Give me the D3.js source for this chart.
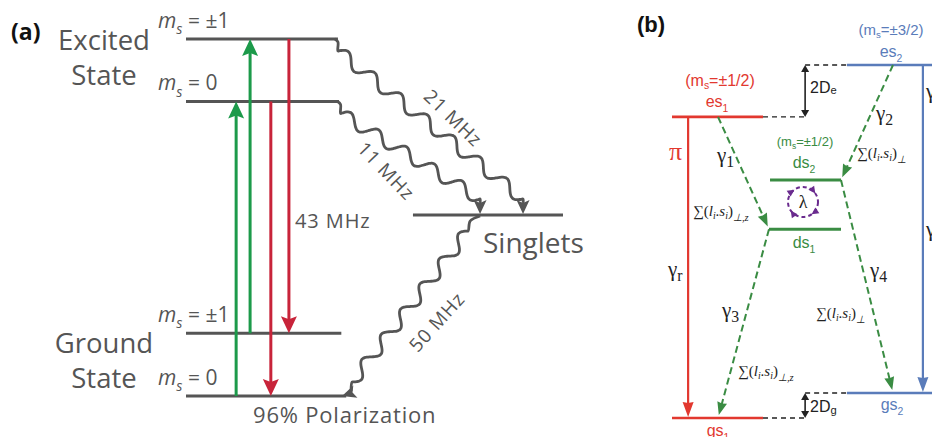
<!DOCTYPE html>
<html><head><meta charset="utf-8">
<script src="https://cdn.jsdelivr.net/npm/d3@7"></script>
<style>body{margin:0;background:#fff}svg{display:block}</style>
</head><body>
<svg id="c" width="932" height="437"></svg>
<script>
// ---------------- DATA ----------------
// Panel (a): NV-centre levels, energy in relative units (ground ms=0 -> 0, excited ms=±1 -> 100)
const levelIdsA    = ["g0", "g1", "e0", "e1", "S"];
const levelEnergyA = [0, 17.6, 82.5, 100, 50.7];
const levelMsA     = ["0", "±1", "0", "±1", null];
const stateNamesA  = [["Excited", "State"], ["Ground", "State"]];
// optical transitions
const opticalFromA = ["g0", "g1", "e0", "e1"];
const opticalToA   = ["e0", "e1", "g0", "g1"];
const opticalKindA = ["absorb", "absorb", "emit", "emit"];
// non-radiative (intersystem crossing) rates, MHz
const iscFromA  = ["e1", "e0", "S"];
const iscToA    = ["S", "S", "g0"];
const iscRateA  = [21, 11, 50];
const radRateA  = 43;
const polarization = 96; // %

// Panel (b): levels (relative energy, gs1 -> 0, es2 -> 100)
const levelIdsB    = ["es1", "es2", "ds2", "ds1", "gs1", "gs2"];
const levelEnergyB = [85.3, 100, 67.4, 53.5, 0, 7.1];
const levelFamB    = ["red", "blue", "green", "green", "red", "blue"];
const transFromB   = ["es1", "es2", "ds1", "ds2"];
const transToB     = ["ds1", "ds2", "gs1", "gs2"];
const transRateB   = ["1", "2", "3", "4"];

// ---------------- LAYOUT ----------------
const svg = d3.select("#c");
const xA = d3.scaleLinear([0, 100], [186, 563]);
const yA = d3.scaleLinear([0, 100], [396, 39]);
const xB = d3.scaleLinear([0, 100], [672, 932]);
const yB = d3.scaleLinear([0, 100], [418, 65]);

const spanA = {g0: [0, 42.5], g1: [0, 41.2], e0: [0, 40.6], e1: [0, 40.3], S: [60.2, 100]};
const opticalX = [13.3, 17.0, 22.5, 27.3];
const iscX = [[40.3, 89.4], [41.0, 78.0], [77.5, 41.4]];
const waveN = [7, 5, 6];
const spanB = {es1: [0, 35], gs1: [0, 35], es2: [67.3, 102], gs2: [67.3, 102], ds2: [37.7, 65], ds1: [37.3, 65]};
const colB = {red: "#e2382f", blue: "#5a7cba", green: "#3a8c43"};
const GRAY = "#555", GREEN = "#1c9a4a", RED = "#c8243a";

function head(tip, ang, len, hw, notch) {
  const c = Math.cos(ang), s = Math.sin(ang);
  const bx = tip[0] - c * len, by = tip[1] - s * len;
  const nx = tip[0] - c * (len - notch), ny = tip[1] - s * (len - notch);
  return `M${tip[0]},${tip[1]}L${bx - s * hw},${by + c * hw}L${nx},${ny}L${bx + s * hw},${by - c * hw}Z`;
}

function rich(g, x, y, parts, opt) {
  const t = g.append("text").attr("x", x).attr("y", y)
    .attr("font-family", opt.font).attr("font-size", opt.size).attr("fill", opt.fill)
    .attr("text-anchor", opt.anchor || "start");
  if (opt.spacing) t.attr("letter-spacing", opt.spacing);
  let shift = 0;
  parts.forEach(p => {
    const sp = t.append("tspan").text(p.t);
    const target = p.sub ? opt.size * (p.subShift || 0.32) : 0;
    if (target !== shift) { sp.attr("dy", target - shift); shift = target; }
    if (p.sub) sp.attr("font-size", opt.size * (p.subSize || 0.65));
    if (p.it) sp.attr("font-style", "italic");
  });
  return t;
}

// ---------------- PANEL (a) ----------------
const gA = svg.append("g");
const EA = Object.fromEntries(levelIdsA.map((d, i) => [d, levelEnergyA[i]]));
const OPEN = "'Open Sans', sans-serif";

gA.append("text").attr("x", 11).attr("y", 40).attr("font-family", OPEN)
  .attr("font-weight", 700).attr("font-size", 23).attr("fill", "#111").text("(a)");

levelIdsA.forEach((id, i) => {
  gA.append("line").attr("x1", xA(spanA[id][0])).attr("x2", xA(spanA[id][1]))
    .attr("y1", yA(levelEnergyA[i])).attr("y2", yA(levelEnergyA[i]))
    .attr("stroke", GRAY).attr("stroke-width", 3);
  if (levelMsA[i] !== null) {
    rich(gA, 158, yA(levelEnergyA[i]) - 11, [
      {t: "m", it: true}, {t: "s", sub: true, it: true, subShift: 0.3, subSize: 0.68}, {t: " = " + levelMsA[i]}
    ], {font: OPEN, size: 21, fill: GRAY});
  }
});

[[50, 85], [353, 388]].forEach((ys, k) => {
  gA.append("text").attr("x", 104).attr("y", ys[0]).attr("text-anchor", "middle")
    .attr("font-family", OPEN).attr("font-size", 27.5).attr("fill", GRAY).text(stateNamesA[k][0]);
  gA.append("text").attr("x", 104).attr("y", ys[1]).attr("text-anchor", "middle")
    .attr("font-family", OPEN).attr("font-size", 27.5).attr("fill", GRAY).text(stateNamesA[k][1]);
});

opticalFromA.forEach((f, i) => {
  const x = xA(opticalX[i]);
  const y0 = yA(EA[f]), y1 = yA(EA[opticalToA[i]]);
  const col = opticalKindA[i] === "absorb" ? GREEN : RED;
  const dir = y1 < y0 ? -1 : 1;
  gA.append("line").attr("x1", x).attr("x2", x).attr("y1", y0).attr("y2", y1 - dir * 12)
    .attr("stroke", col).attr("stroke-width", 3);
  gA.append("path").attr("d", head([x, y1], dir * Math.PI / 2, 17, 8, 3)).attr("fill", col);
});

gA.append("text").attr("x", 295).attr("y", 228).attr("font-family", OPEN)
  .attr("font-size", 20).attr("letter-spacing", 0.9).attr("fill", GRAY).text(radRateA + " MHz");

function wave(p0, p1, n, A) {
  const dx = p1[0] - p0[0], dy = p1[1] - p0[1], L = Math.hypot(dx, dy);
  const px = -dy / L, py = dx / L, N = n * 30, pts = [];
  for (let i = 0; i <= N; i++) {
    const t = i / N, s = A * Math.sin(2 * Math.PI * n * t);
    pts.push([p0[0] + dx * t + px * s, p0[1] + dy * t + py * s]);
  }
  return pts;
}
const line = d3.line().curve(d3.curveCatmullRom);
const labelPos = [[453, 118, 44], [386, 171, 46], [437, 322, -48]];
iscFromA.forEach((f, i) => {
  const x0 = xA(iscX[i][0]), x1 = xA(iscX[i][1]);
  const y0 = yA(EA[f]), y1 = yA(EA[iscToA[i]]);
  let pts, tip, ang;
  if (i < 2) {
    const a = [x0, y0 + 12], b = [x1, y1 - 16];
    pts = [[x0 - 3, y0], [x0, y0 + 3]].concat(wave(a, b, waveN[i], -6)).concat([[x1, y1 - 12]]);
    tip = [x1, y1 - 1]; ang = Math.PI / 2;
  } else {
    const a = [x0 - 10, y0 + 16], b = [x1 + 10, y1 - 14];
    pts = [[x0 + 2, y0 + 1], [x0 - 8, y0 + 6]].concat(wave(a, b, waveN[i], 6)).concat([[x1 + 9, y1 - 5]]);
    tip = [x1, y1]; ang = Math.atan2(3, -9);
  }
  gA.append("path").attr("d", line(pts)).attr("fill", "none")
    .attr("stroke", GRAY).attr("stroke-width", 2.8);
  gA.append("path").attr("d", head(tip, ang, 14, 6.5, 3)).attr("fill", GRAY);
  const lp = labelPos[i];
  gA.append("text").attr("transform", `translate(${lp[0]},${lp[1]}) rotate(${lp[2]})`)
    .attr("text-anchor", "middle").attr("dy", "0.35em").attr("font-family", OPEN)
    .attr("font-size", 19).attr("letter-spacing", 0.9).attr("fill", GRAY).text(iscRateA[i] + " MHz");
});

gA.append("text").attr("x", 483).attr("y", 253).attr("font-family", OPEN)
  .attr("font-size", 28).attr("fill", GRAY).text("Singlets");
gA.append("text").attr("x", 253).attr("y", 423).attr("font-family", OPEN)
  .attr("font-size", 22).attr("letter-spacing", 0.8).attr("fill", GRAY).text(polarization + "% Polarization");

// ---------------- PANEL (b) ----------------
const gB = svg.append("g");
const EB = Object.fromEntries(levelIdsB.map((d, i) => [d, levelEnergyB[i]]));
const SANS = "'Liberation Sans', Arial, sans-serif";
const SERIF = "'Liberation Serif', 'Times New Roman', serif";

gB.append("text").attr("x", 637).attr("y", 32).attr("font-family", SANS)
  .attr("font-weight", 700).attr("font-size", 22).attr("fill", "#111").text("(b)");

levelIdsB.forEach((id, i) => {
  gB.append("line").attr("x1", xB(spanB[id][0])).attr("x2", xB(spanB[id][1]))
    .attr("y1", yB(levelEnergyB[i])).attr("y2", yB(levelEnergyB[i]))
    .attr("stroke", colB[levelFamB[i]]).attr("stroke-width", levelFamB[i] === "green" ? 3 : 2.6);
});

const lab = (x, y, base, sub, fam, size) =>
  rich(gB, x, y, [{t: base}, {t: sub, sub: true}], {font: SANS, size: size || 16, fill: colB[fam], anchor: "middle"});
lab(891, 57, "es", "2", "blue");
lab(717, 107, "es", "1", "red");
lab(804, 168, "ds", "2", "green");
lab(804, 248, "ds", "1", "green");
lab(892, 410, "gs", "2", "blue");
lab(718, 436, "gs", "1", "red");
const msLab = (x, y, v, fam, size) =>
  rich(gB, x, y, [{t: "(m"}, {t: "s", sub: true, subShift: 0.2}, {t: "=" + v + ")"}],
    {font: SANS, size: size, fill: colB[fam], anchor: "middle"});
msLab(891, 35, "±3/2", "blue", 15);
msLab(720, 86, "±1/2", "red", 16);
msLab(805, 146, "±1/2", "green", 13);

[["es1", "gs1", 6.2, "red"], ["es2", "gs2", 96.5, "blue"]].forEach(d => {
  const x = xB(d[2]), y0 = yB(EB[d[0]]), y1 = yB(EB[d[1]]);
  gB.append("line").attr("x1", x).attr("x2", x).attr("y1", y0).attr("y2", y1 - 10)
    .attr("stroke", colB[d[3]]).attr("stroke-width", 2.2);
  gB.append("path").attr("d", head([x, y1 - 1], Math.PI / 2, 15, 5.5, 1)).attr("fill", colB[d[3]]);
});

const black = "#222";
[["es1", "es2"], ["gs1", "gs2"]].forEach(pr => {
  const yl = yB(EB[pr[0]]), yh = yB(EB[pr[1]]);
  const xm = xB(51.2);
  gB.append("line").attr("x1", xB(35)).attr("x2", xm).attr("y1", yl).attr("y2", yl)
    .attr("stroke", black).attr("stroke-width", 1.4).attr("stroke-dasharray", "5,4");
  gB.append("line").attr("x1", xm).attr("x2", xB(67.3)).attr("y1", yh).attr("y2", yh)
    .attr("stroke", black).attr("stroke-width", 1.4).attr("stroke-dasharray", "5,4");
  gB.append("line").attr("x1", xm).attr("x2", xm).attr("y1", yh + 5).attr("y2", yl - 5)
    .attr("stroke", black).attr("stroke-width", 1.6);
  gB.append("path").attr("d", head([xm, yh], -Math.PI / 2, 7, 4, 0)).attr("fill", black);
  gB.append("path").attr("d", head([xm, yl], Math.PI / 2, 7, 4, 0)).attr("fill", black);
});
rich(gB, 810, 93, [{t: "2D"}, {t: "e", sub: true, subShift: 0.05, subSize: 0.7}], {font: SANS, size: 16, fill: black});
rich(gB, 810, 412, [{t: "2D"}, {t: "g", sub: true, subShift: 0.1, subSize: 0.7}], {font: SANS, size: 16, fill: black});

const transX = [[17.7, 37.3], [85, 65], [37.3, 17.7], [65, 85]];
transFromB.forEach((f, i) => {
  const p0 = [xB(transX[i][0]), yB(EB[f])], p1 = [xB(transX[i][1]), yB(EB[transToB[i]])];
  const ang = Math.atan2(p1[1] - p0[1], p1[0] - p0[0]);
  const tip = [p1[0] - Math.cos(ang) * 3, p1[1] - Math.sin(ang) * 3];
  gB.append("line").attr("x1", p0[0]).attr("y1", p0[1])
    .attr("x2", tip[0] - Math.cos(ang) * 10).attr("y2", tip[1] - Math.sin(ang) * 10)
    .attr("stroke", colB.green).attr("stroke-width", 2).attr("stroke-dasharray", "7,4");
  gB.append("path").attr("d", head(tip, ang, 13, 5, 1)).attr("fill", colB.green);
});

const lc = [803, 202], lr = 15;
gB.append("circle").attr("cx", lc[0]).attr("cy", lc[1]).attr("r", lr).attr("fill", "none")
  .attr("stroke", "#6a2b8e").attr("stroke-width", 2).attr("stroke-dasharray", "4,3");
[-35, 55, 145, 235].forEach(a => {
  const r = a * Math.PI / 180, p = [lc[0] + lr * Math.cos(r), lc[1] + lr * Math.sin(r)];
  gB.append("path").attr("d", head(p, r + Math.PI / 2, 7, 3.5, 0)).attr("fill", "#6a2b8e");
});
gB.append("text").attr("x", lc[0]).attr("y", lc[1] + 6).attr("text-anchor", "middle")
  .attr("font-family", SERIF).attr("font-size", 18).attr("fill", "#222").text("λ");

const gam = (x, y, sub, col) =>
  rich(gB, x, y, [{t: "γ"}, {t: sub, sub: true, subShift: 0.25, subSize: 0.75}],
    {font: SERIF, size: 21, fill: col || "#222"});
gam(717, 162, transRateB[0]);
gam(876, 120, transRateB[1]);
gam(722, 317, transRateB[2]);
gam(870, 277, transRateB[3]);
gam(668, 276, "r");
gB.append("text").attr("x", 669).attr("y", 160).attr("font-family", SERIF)
  .attr("font-size", 26).attr("fill", colB.red).text("π");
gam(926, 98, "", "#222");
gam(926, 236, "", "#222");

const sumL = (x, y, sub) => rich(gB, x, y, [
  {t: "∑("}, {t: "l", it: true}, {t: "i", sub: true, it: true, subShift: 0.2}, {t: "."},
  {t: "s", it: true}, {t: "i", sub: true, it: true, subShift: 0.2}, {t: ")"},
  {t: sub, sub: true, it: true, subShift: 0.35, subSize: 0.7}
], {font: SERIF, size: 15, fill: "#222"});
sumL(693, 216, "⊥,z");
sumL(857, 158, "⊥");
sumL(816, 318, "⊥");
sumL(738, 376, "⊥,z");
</script>
</body></html>
